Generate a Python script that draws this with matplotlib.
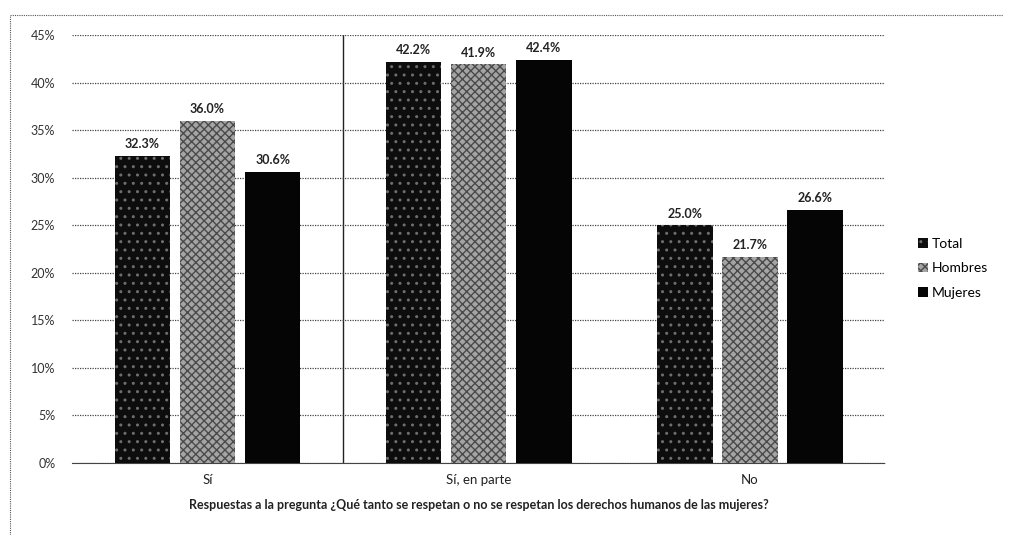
import numpy as np
import matplotlib
matplotlib.use("Agg")
from matplotlib import pyplot as plt

# data
categories = ["Sí", "Sí, en parte", "No"]
series_names = ["Total", "Hombres", "Mujeres"]
total = [32.3, 42.2, 25.0]      # [%]
hombres = [36.0, 41.9, 21.7]    # [%]
mujeres = [30.6, 42.4, 26.6]    # [%]
yticks = [0, 5, 10, 15, 20, 25, 30, 35, 40, 45]
xlabel = "Respuestas a la pregunta ¿Qué tanto se respetan o no se respetan los derechos humanos de las mujeres?"

plt.rcParams["font.family"] = ["Lato", "DejaVu Sans"]

f = plt.figure(figsize=(10.13, 5.35), dpi=100)
ax = f.add_axes([0.071, 0.1346, 0.803, 0.80])

x = np.arange(len(categories))
width = 0.205
step = 0.24
styles = [
    dict(color="#0d0d0d", hatch="..", edge="#6e6e6e"),
    dict(color="#a4a4a4", hatch="xxxx", edge="#4a4a4a"),
    dict(color="#050505", hatch=None, edge="#050505"),
]

for k, (name, vals) in enumerate(zip(series_names, [total, hombres, mujeres])):
    pos = x + (k - 1) * step
    st = styles[k]
    bars = ax.bar(pos, vals, width, color=st["color"], label=name,
                  hatch=st["hatch"], edgecolor=st["edge"], linewidth=0, zorder=3)
    for b, v in zip(bars, vals):
        ax.text(b.get_x() + b.get_width() / 2, v + 0.6, f"{v:.1f}%",
                ha="center", va="bottom", fontsize=9, fontweight="bold",
                color="#222222", zorder=4)

ax.set_xlim(-0.5, 2.5)
ax.set_ylim(0, 45)
ax.set_yticks(yticks)
ax.set_yticklabels([f"{t}%" for t in yticks], fontsize=9, color="#333333")
ax.set_xticks(x)
ax.set_xticklabels(categories, fontsize=9.5, color="#222222")
ax.tick_params(axis="both", length=0, pad=12)
ax.tick_params(axis="x", pad=8)

ax.yaxis.grid(True, linestyle=(0, (1, 1)), color="#444444", linewidth=0.9, zorder=0)
for s in ["left", "right", "top"]:
    ax.spines[s].set_visible(False)
ax.spines["bottom"].set_color("#444444")
ax.spines["bottom"].set_linestyle((0, (1, 1)))
ax.axvline(0.5, color="#222222", linewidth=1.0, zorder=1)

ax.set_xlabel(xlabel, fontsize=9, fontweight="bold", color="#222222", labelpad=9)

leg = ax.legend(loc="center left", bbox_to_anchor=(1.025, 0.455), frameon=False,
                fontsize=10, handlelength=0.7, handleheight=0.7,
                handletextpad=0.3, labelspacing=0.9)

# outer chart frame (dotted)
f.add_artist(plt.Line2D([0.01, 0.99], [0.972, 0.972], transform=f.transFigure,
                        color="#555555", linestyle=(0, (1, 1)), linewidth=0.8))
f.add_artist(plt.Line2D([0.01, 0.01], [0.0, 0.972], transform=f.transFigure,
                        color="#555555", linestyle=(0, (1, 1)), linewidth=0.8))

f.savefig("out.png", dpi=100, facecolor="white")
